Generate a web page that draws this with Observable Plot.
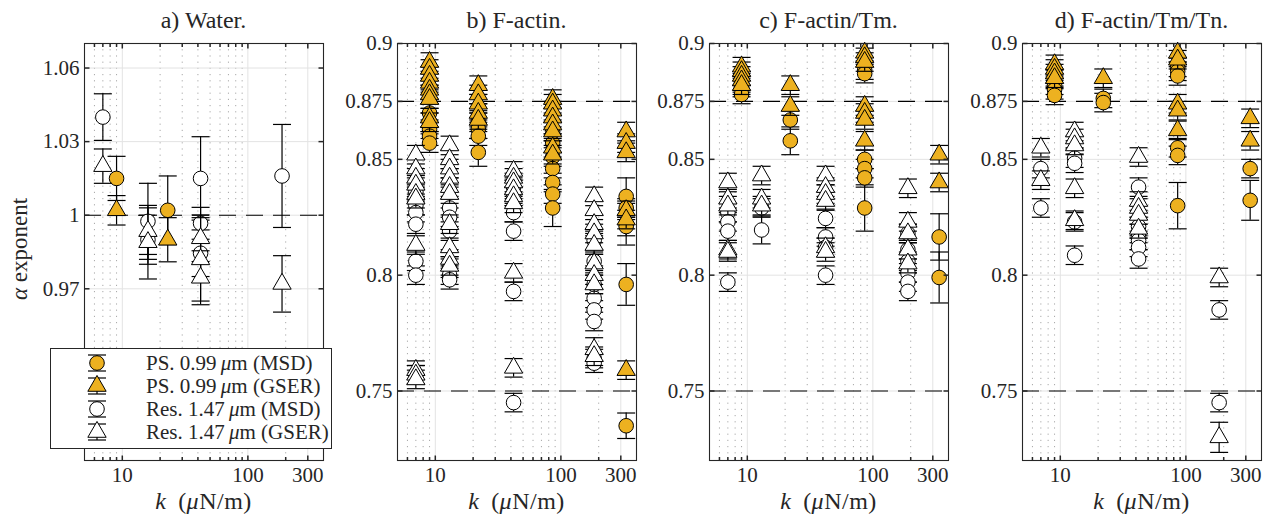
<!DOCTYPE html>
<html>
<head>
<meta charset="utf-8">
<script src="https://cdn.jsdelivr.net/npm/d3@7"></script>
<script src="https://cdn.jsdelivr.net/npm/@observablehq/plot@0.6"></script>
<style>
  body { margin: 0; background: #fff; }
  #wrap { position: relative; width: 1268px; height: 520px; overflow: hidden;
          font-family: "Liberation Serif", "DejaVu Serif", serif; color: #262626; background: #fff; }
  .abs { position: absolute; white-space: nowrap; }
  .title { font-size: 24px; line-height: 24px; top: 8px; transform: translateX(-50%); }
  .xlab { font-size: 24px; line-height: 24px; top: 489px; transform: translateX(-50%); letter-spacing: 0.5px; }
  .ylab { font-size: 23px; line-height: 24px; left: 20px; top: 249px; transform: translate(-50%, -50%) rotate(-90deg); }
  #legend { position: absolute; left: 50px; top: 348px; width: 280px; height: 99px;
            border: 1px solid #262626; background: #fff; }
  #legend .row { position: absolute; left: 95px; font-size: 21px; line-height: 22px; white-space: nowrap; }
  #legend svg { position: absolute; left: 0; top: 0; }
</style>
</head>
<body>
<div id="wrap"></div>
<script>
// ---------------- data: rows are [k (µN/m), alpha, error] ----------------
const DEFAULT_ERR = 0.004;

// a) Water
const water_PS_MSD   = [[9, 1.015, 0.009], [23, 1.002, 0.014]];
const water_PS_GSER  = [[9, 1.002, 0.006], [23, 0.990, 0.009]];
const water_Res_MSD  = [[7, 1.040, 0.0095], [16, 0.9975, 0.0155], [16, 0.990, 0.010],
                        [42, 1.015, 0.017], [42, 0.9967, 0.0065], [42, 0.9845, 0.0095], [187, 1.016, 0.021]];
const water_Res_GSER = [[7, 1.020, 0.007], [16, 0.9935, 0.0095], [16, 0.989, 0.015],
                        [42, 0.9906, 0.0095], [42, 0.982, 0.017], [42, 0.9745, 0.011], [187, 0.972, 0.0115]];

// b) F-actin
const actin_PS_MSD = [
  [9, 0.870], [9, 0.866], [9, 0.863], [9, 0.860], [9, 0.857],
  [22, 0.866], [22, 0.863], [22, 0.860], [22, 0.853, 0.006],
  [86, 0.862], [86, 0.857], [86, 0.851], [86, 0.846], [86, 0.840], [86, 0.835], [86, 0.829, 0.008],
  [331, 0.834, 0.008], [331, 0.829], [331, 0.822, 0.009], [331, 0.821], [331, 0.796, 0.009], [331, 0.735, 0.0055]];
const actin_PS_GSER = [
  [9, 0.892], [9, 0.889], [9, 0.886], [9, 0.883], [9, 0.880], [9, 0.878], [9, 0.876], [9, 0.868], [9, 0.866],
  [22, 0.882], [22, 0.878], [22, 0.874], [22, 0.870], [22, 0.867],
  [86, 0.876], [86, 0.874], [86, 0.871], [86, 0.868], [86, 0.865], [86, 0.862], [86, 0.855], [86, 0.852],
  [331, 0.862], [331, 0.857], [331, 0.853], [331, 0.828], [331, 0.824], [331, 0.759]];
const actin_Res_MSD = [
  [7, 0.836], [7, 0.830], [7, 0.827], [7, 0.822], [7, 0.806], [7, 0.800], [7, 0.757],
  [13, 0.829], [13, 0.825], [13, 0.819], [13, 0.803], [13, 0.800], [13, 0.798],
  [42, 0.838], [42, 0.834], [42, 0.827], [42, 0.819], [42, 0.793], [42, 0.745],
  [184, 0.815], [184, 0.806], [184, 0.796], [184, 0.790], [184, 0.785], [184, 0.780], [184, 0.764], [184, 0.762]];
const actin_Res_GSER = [
  [7, 0.852], [7, 0.846], [7, 0.842], [7, 0.839], [7, 0.835], [7, 0.833], [7, 0.813], [7, 0.759], [7, 0.757], [7, 0.755],
  [13, 0.856], [13, 0.850], [13, 0.846], [13, 0.842], [13, 0.838], [13, 0.835], [13, 0.822], [13, 0.812], [13, 0.807], [13, 0.804],
  [42, 0.845], [42, 0.842], [42, 0.840], [42, 0.837], [42, 0.834], [42, 0.831], [42, 0.801], [42, 0.760],
  [184, 0.834], [184, 0.828], [184, 0.822], [184, 0.818], [184, 0.813], [184, 0.805], [184, 0.800], [184, 0.796], [184, 0.768, 0.005], [184, 0.765]];

// c) F-actin/Tm
const tm_PS_MSD = [
  [9, 0.883], [9, 0.881], [9, 0.878],
  [22, 0.867], [22, 0.858, 0.006],
  [86, 0.8885], [86, 0.887], [86, 0.850], [86, 0.846], [86, 0.842], [86, 0.829, 0.010],
  [337, 0.8165, 0.010], [337, 0.799, 0.011]];
const tm_PS_GSER = [
  [9, 0.890], [9, 0.888], [9, 0.886], [9, 0.884], [9, 0.882],
  [22, 0.882], [22, 0.873],
  [86, 0.896], [86, 0.894], [86, 0.892], [86, 0.873], [86, 0.870], [86, 0.867], [86, 0.858],
  [337, 0.852], [337, 0.840]];
const tm_Res_MSD = [
  [7, 0.827], [7, 0.823], [7, 0.819], [7, 0.797],
  [13, 0.829], [13, 0.8195, 0.006],
  [42, 0.8245], [42, 0.8165], [42, 0.812], [42, 0.800],
  [190, 0.818], [190, 0.811], [190, 0.806], [190, 0.801], [190, 0.797], [190, 0.793]];
const tm_Res_GSER = [
  [7, 0.840], [7, 0.833], [7, 0.830], [7, 0.811], [7, 0.810],
  [13, 0.843], [13, 0.833], [13, 0.830],
  [42, 0.843], [42, 0.838], [42, 0.835], [42, 0.832], [42, 0.812], [42, 0.810],
  [190, 0.8375], [190, 0.823], [190, 0.818], [190, 0.811], [190, 0.805]];

// d) F-actin/Tm/Tn
const tn_PS_MSD = [
  [9, 0.8845], [9, 0.882], [9, 0.880], [9, 0.8776],
  [22, 0.8763], [22, 0.8745],
  [86, 0.8897], [86, 0.888], [86, 0.886], [86, 0.855], [86, 0.8517], [86, 0.830, 0.010],
  [325, 0.846], [325, 0.8323, 0.0086]];
const tn_PS_GSER = [
  [9, 0.891], [9, 0.889], [9, 0.887], [9, 0.885],
  [22, 0.885],
  [86, 0.896], [86, 0.893], [86, 0.874], [86, 0.871], [86, 0.8625],
  [325, 0.8677], [325, 0.858]];
const tn_Res_MSD = [
  [7, 0.846], [7, 0.829],
  [13, 0.8505], [13, 0.8483], [13, 0.823], [13, 0.8086],
  [42, 0.838], [42, 0.821], [42, 0.818], [42, 0.815], [42, 0.812], [42, 0.807],
  [184, 0.785], [184, 0.745]];
const tn_Res_GSER = [
  [7, 0.855], [7, 0.841],
  [13, 0.862], [13, 0.859], [13, 0.856], [13, 0.8375], [13, 0.8237],
  [42, 0.851], [42, 0.832], [42, 0.829], [42, 0.826], [42, 0.820],
  [184, 0.799], [184, 0.730, 0.0065]];

// axes
const xDomain = [5, 400];
const xTicks = [10, 100, 300];
const xMinor = [6, 7, 8, 9, 20, 30, 40, 50, 60, 70, 80, 90, 200];
const waterYDomain = [0.9, 1.07];
const waterYTicks = [0.97, 1, 1.03, 1.06];
const waterRefs = [1];
const actinYDomain = [0.72, 0.9];
const actinYTicks = [0.75, 0.8, 0.85, 0.875, 0.9];
const actinRefs = [0.875, 0.75];
const titles = ["a) Water.", "b) F-actin.", "c) F-actin/Tm.", "d) F-actin/Tm/Tn."];
const seriesNames = ["PS. 0.99", "PS. 0.99", "Res. 1.47", "Res. 1.47"];
const seriesMethods = ["(MSD)", "(GSER)", "(MSD)", "(GSER)"];

// ---------------- styling ----------------
const ORANGE = "#EDB120";
const INK = "#262626";
const styles = [
  {fill: ORANGE, symbol: "circle", r: 7.3},
  {fill: ORANGE, symbol: "triangle", r: 6.8},
  {fill: "#fff", symbol: "circle", r: 7.3},
  {fill: "#fff", symbol: "triangle", r: 6.8}
];
const frameLefts = [84, 397, 709, 1022];
const M = {left: 70, right: 8, top: 43, bottom: 60};
const FRAME_W = 239;

const line = (x1, y1, x2, y2) => ({draw(ctx) { ctx.moveTo(x1, y1); ctx.lineTo(x2, y2); }});
const capSym = line(-9, 0, 9, 0);

const rows = arr => arr.map(([k, a, e = DEFAULT_ERR]) => ({k, a, e}));

const panels = [
  {yDomain: waterYDomain, yTicks: waterYTicks, refs: waterRefs, series: [water_PS_MSD, water_PS_GSER, water_Res_MSD, water_Res_GSER]},
  {yDomain: actinYDomain, yTicks: actinYTicks, refs: actinRefs, series: [actin_PS_MSD, actin_PS_GSER, actin_Res_MSD, actin_Res_GSER]},
  {yDomain: actinYDomain, yTicks: actinYTicks, refs: actinRefs, series: [tm_PS_MSD, tm_PS_GSER, tm_Res_MSD, tm_Res_GSER]},
  {yDomain: actinYDomain, yTicks: actinYTicks, refs: actinRefs, series: [tn_PS_MSD, tn_PS_GSER, tn_Res_MSD, tn_Res_GSER]}
];

const wrap = document.getElementById("wrap");

panels.forEach((p, i) => {
  const dataMarks = [];
  p.series.forEach((s, j) => {
    const d = rows(s);
    const st = styles[j];
    dataMarks.push(
      Plot.ruleX(d, {x: "k", y1: r => r.a - r.e, y2: r => r.a + r.e, stroke: "#000", strokeWidth: 1.2}),
      Plot.dot(d, {x: "k", y: r => r.a + r.e, symbol: capSym, r: 3, fill: "none", stroke: "#000", strokeWidth: 1.2}),
      Plot.dot(d, {x: "k", y: r => r.a - r.e, symbol: capSym, r: 3, fill: "none", stroke: "#000", strokeWidth: 1.2}),
      Plot.dot(d, {x: "k", y: "a", symbol: st.symbol, r: st.r, fill: st.fill, stroke: "#000", strokeWidth: 1})
    );
  });

  const svg = Plot.plot({
    width: M.left + FRAME_W + M.right,
    height: 520,
    marginLeft: M.left, marginRight: M.right, marginTop: M.top, marginBottom: M.bottom,
    x: {type: "log", domain: xDomain, axis: null},
    y: {domain: p.yDomain, axis: null},
    style: {background: "transparent", fontFamily: "'Liberation Serif', 'DejaVu Serif', serif", overflow: "visible", color: INK},
    marks: [
      // grid
      Plot.ruleX(xMinor, {x: d => d, stroke: "#a8a8a8", strokeDasharray: "1.2,5", strokeWidth: 1}),
      Plot.ruleX(xTicks, {x: d => d, stroke: "#e3e3e3", strokeWidth: 1}),
      Plot.ruleY(p.yTicks, {y: d => d, stroke: "#e3e3e3", strokeWidth: 1}),
      // reference lines
      Plot.ruleY(p.refs, {y: d => d, stroke: "#000", strokeWidth: 1.1, strokeDasharray: "17,10"}),
      // data
      ...dataMarks,
      // box + inward ticks
      Plot.frame({stroke: INK, strokeWidth: 1.1}),
      Plot.dot(p.yTicks, {y: d => d, frameAnchor: "left", symbol: line(0, 0, 5, 0), r: 2, fill: "none", stroke: INK}),
      Plot.dot(p.yTicks, {y: d => d, frameAnchor: "right", symbol: line(0, 0, -5, 0), r: 2, fill: "none", stroke: INK}),
      Plot.dot(xTicks, {x: d => d, frameAnchor: "bottom", symbol: line(0, 0, 0, -5), r: 2, fill: "none", stroke: INK}),
      Plot.dot(xTicks, {x: d => d, frameAnchor: "top", symbol: line(0, 0, 0, 5), r: 2, fill: "none", stroke: INK}),
      Plot.dot(xMinor, {x: d => d, frameAnchor: "bottom", symbol: line(0, 0, 0, -3.5), r: 2, fill: "none", stroke: INK}),
      Plot.dot(xMinor, {x: d => d, frameAnchor: "top", symbol: line(0, 0, 0, 3.5), r: 2, fill: "none", stroke: INK}),
      // tick labels
      Plot.text(p.yTicks, {y: d => d, frameAnchor: "left", textAnchor: "end", dx: -5, text: d => String(d), fontSize: 21, fill: INK}),
      Plot.text(xTicks, {x: d => d, frameAnchor: "bottom", lineAnchor: "top", dy: 7, text: d => String(d), fontSize: 21, fill: INK})
    ]
  });
  svg.style.position = "absolute";
  svg.style.left = (frameLefts[i] - M.left) + "px";
  svg.style.top = "0px";
  wrap.appendChild(svg);

  const cx = frameLefts[i] + FRAME_W / 2;
  const t = document.createElement("div");
  t.className = "abs title";
  t.style.left = cx + "px";
  t.textContent = titles[i];
  wrap.appendChild(t);

  const xl = document.createElement("div");
  xl.className = "abs xlab";
  xl.style.left = cx + "px";
  xl.innerHTML = "<i>k</i>&thinsp; (<i>μ</i>N/m)";
  wrap.appendChild(xl);
});

// y label
const yl = document.createElement("div");
yl.className = "abs ylab";
yl.innerHTML = "<i>α</i> exponent";
wrap.appendChild(yl);

// legend
const leg = document.createElement("div");
leg.id = "legend";
const rowY = [14, 37, 60, 83];
let icons = "";
styles.forEach((st, j) => {
  const cy = rowY[j], cx = 46;
  icons += `<line x1="${cx}" x2="${cx}" y1="${cy - 8}" y2="${cy + 8}" stroke="#000" stroke-width="1.2"/>`;
  icons += `<line x1="${cx - 9}" x2="${cx + 9}" y1="${cy - 8}" y2="${cy - 8}" stroke="#000" stroke-width="1.2"/>`;
  icons += `<line x1="${cx - 9}" x2="${cx + 9}" y1="${cy + 8}" y2="${cy + 8}" stroke="#000" stroke-width="1.2"/>`;
  if (st.symbol === "circle") {
    icons += `<circle cx="${cx}" cy="${cy}" r="${st.r}" fill="${st.fill}" stroke="#000"/>`;
  } else {
    const path = d3.symbol(d3.symbolTriangle, Math.PI * st.r * st.r)();
    icons += `<path transform="translate(${cx},${cy})" d="${path}" fill="${st.fill}" stroke="#000"/>`;
  }
});
leg.innerHTML = `<svg width="280" height="99">${icons}</svg>` +
  seriesNames.map((n, j) => {
    const size = n.split(" ")[1];
    const lab = n.split(" ")[0];
    return `<div class="row" style="top:${rowY[j] - 11}px">${lab} ${size}&thinsp;<i>μ</i>m ${seriesMethods[j]}</div>`;
  }).join("");
wrap.appendChild(leg);
</script>
</body>
</html>
